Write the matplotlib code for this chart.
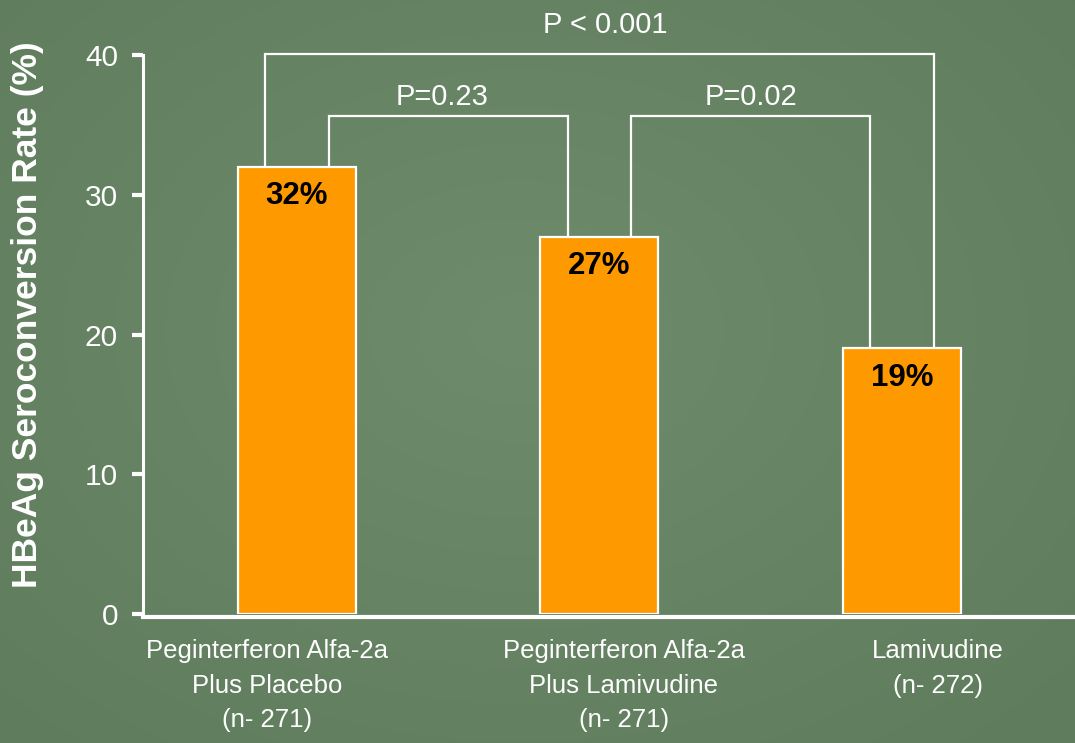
import matplotlib.pyplot as plt
import numpy as np
from matplotlib.colors import to_rgb

plt.rcParams['font.family'] = ['Liberation Sans', 'DejaVu Sans']

groups = ['Peginterferon Alfa-2a\nPlus Placebo\n(n- 271)',
          'Peginterferon Alfa-2a\nPlus Lamivudine\n(n- 271)',
          'Lamivudine\n(n- 272)']
rates = [32, 27, 19]
value_labels = ['32%', '27%', '19%']

# pairwise comparisons: (left bar, right bar, label)
comparisons = [(0, 2, 'P < 0.001'), (0, 1, 'P=0.23'), (1, 2, 'P=0.02')]

fig = plt.figure(figsize=(10.75, 7.43), dpi=100)

# soft radial green background
bg = fig.add_axes([0, 0, 1, 1], zorder=-10)
yy, xx = np.mgrid[0:743, 0:1075]
r = np.sqrt(((xx - 520) / 760.0) ** 2 + ((yy - 330) / 560.0) ** 2)
r = np.clip(r, 0, 1)[..., None]
inner = np.array(to_rgb('#6E8B6C'))
outer = np.array(to_rgb('#5F7C5C'))
bg.imshow(inner * (1 - r) + outer * r, aspect='auto', interpolation='bilinear')
bg.axis('off')

ax = fig.add_axes([143 / 1075, 129 / 743, 932 / 1075, 559 / 743])
ax.patch.set_alpha(0)

x = np.arange(len(rates))
bar_w = 0.39
ax.bar(x, rates, width=bar_w, color='#FF9900', edgecolor='white', linewidth=1.6, zorder=3)

for xi, v, lab in zip(x, rates, value_labels):
    ax.text(xi, v - 2.1, lab, ha='center', va='center', fontsize=22.5,
            fontweight='bold', color='black', zorder=4)

# significance brackets
leg = 0.105
heights = {'P < 0.001': 40.07, 'P=0.23': 35.6, 'P=0.02': 35.6}
text_gap = {'P < 0.001': 1.5, 'P=0.23': 0.85, 'P=0.02': 0.85}
text_dx = {'P < 0.001': 0.02, 'P=0.23': -0.02, 'P=0.02': 0.0}
for i, j, lab in comparisons:
    x0 = x[i] + leg
    x1 = x[j] - leg
    if lab == 'P < 0.001':
        x0 = x[i] - leg
        x1 = x[j] + leg
    h = heights[lab]
    ax.plot([x0, x0, x1, x1], [rates[i], h, h, rates[j]], color='white',
            linewidth=1.6, clip_on=False, zorder=2, solid_joinstyle='miter')
    ax.text((x0 + x1) / 2 + text_dx[lab], h + text_gap[lab], lab, ha='center',
            va='baseline', fontsize=21, color='white', clip_on=False)

ax.set_xlim(-0.509, 2.572)
ax.set_ylim(0, 40)
ax.set_yticks([0, 10, 20, 30, 40])
ax.set_xticks([])
ax.tick_params(axis='y', colors='white', labelsize=21.5, length=8, width=3, pad=10)

for side in ['top', 'right']:
    ax.spines[side].set_visible(False)
ax.spines['left'].set_color('white')
ax.spines['left'].set_linewidth(2.2)
ax.spines['bottom'].set_color('white')
ax.spines['bottom'].set_linewidth(3)
ax.spines['bottom'].set_position(('data', -0.2))

# group names below the axis
label_x = [-0.10, 1.08, 2.12]
for lx, g in zip(label_x, groups):
    ax.text(lx, -0.045, g, transform=ax.get_xaxis_transform(), ha='center',
            va='top', fontsize=18.5, color='white', linespacing=1.55)

fig.text(28 / 1075, 1 - 315 / 743, 'HBeAg Seroconversion Rate (%)', rotation=90,
         ha='center', va='center', fontsize=25.5, fontweight='bold', color='white')

fig.savefig('out.png', dpi=100)
